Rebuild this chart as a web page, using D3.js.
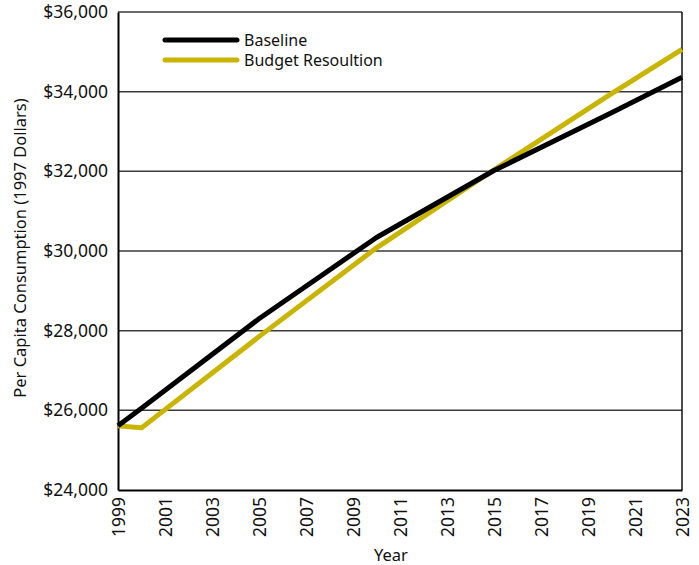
<!DOCTYPE html>
<html>
<head>
<meta charset="utf-8">
<script src="https://cdn.jsdelivr.net/npm/d3@7"></script>
<style>
  body { margin: 0; background: #fff; }
  svg text { font-family: "Noto Sans", "Open Sans", sans-serif; fill: #111; }
</style>
</head>
<body>
<svg id="chart" width="699" height="565"></svg>
<script>
var years = [1999, 2000, 2005, 2010, 2015, 2020, 2023];
var baseline = [25610, 26050, 28300, 30340, 32020, 33470, 34360];
var budget = [25610, 25560, 27850, 30080, 32040, 33950, 35060];
var yTicks = [24000, 26000, 28000, 30000, 32000, 34000, 36000];
var xTicks = [1999, 2001, 2003, 2005, 2007, 2009, 2011, 2013, 2015, 2017, 2019, 2021, 2023];
var seriesNames = ["Baseline", "Budget Resoultion"];

var colors = {
    "black": "#000000",
    "gold": "#c9b400"
};

var svg = d3.select("#chart");
var plotLeft = 118, plotRight = 682, plotTop = 12, plotBottom = 490;

var x = d3.scaleLinear().domain([1999, 2023]).range([plotLeft, plotRight]);
var y = d3.scaleLinear().domain([24000, 36000]).range([plotBottom, plotTop]);

// gridlines
svg.append("g")
    .selectAll("line")
    .data(yTicks.slice(1))
    .enter()
    .append("line")
    .attr("x1", plotLeft)
    .attr("x2", plotRight)
    .attr("y1", (d) => y(d))
    .attr("y2", (d) => y(d))
    .style("stroke", "#3a3a3a")
    .style("stroke-width", 1.5);

// right border
svg.append("line")
    .attr("x1", plotRight).attr("x2", plotRight)
    .attr("y1", plotTop).attr("y2", plotBottom)
    .style("stroke", "#111")
    .style("stroke-width", 1.5);

// y axis
var yAxis = svg.append("g")
    .attr("transform", "translate(" + plotLeft + ",0)")
    .call(d3.axisLeft(y).tickValues(yTicks).tickSize(0).tickPadding(10)
        .tickFormat((d) => "$" + d3.format(",")(d)));
yAxis.select(".domain").style("stroke", "#000").style("stroke-width", 2);
yAxis.selectAll("text")
    .attr("font-size", "17.5px")
    .attr("font-family", null);

// x axis
var xAxis = svg.append("g")
    .attr("transform", "translate(0," + plotBottom + ")")
    .call(d3.axisBottom(x).tickValues(xTicks).tickSize(0).tickFormat(d3.format("d")));
xAxis.select(".domain").style("stroke", "#000").style("stroke-width", 2);
xAxis.selectAll("text")
    .attr("font-size", "17.5px")
    .attr("font-family", null)
    .attr("transform", "rotate(-90)")
    .attr("text-anchor", "end")
    .attr("x", -7)
    .attr("y", 0)
    .attr("dy", "0.36em");

// axis titles
svg.append("text")
    .text("Year")
    .attr("x", 391)
    .attr("y", 561)
    .attr("text-anchor", "middle")
    .attr("font-size", "16.5px");
svg.append("text")
    .text("Per Capita Consumption (1997 Dollars)")
    .attr("transform", "translate(26," + ((plotTop + plotBottom) / 2 - 3) + ") rotate(-90)")
    .attr("text-anchor", "middle")
    .attr("font-size", "16.5px");

// lines
var series = [
    { "name": seriesNames[0], "values": baseline, "color": colors["black"] },
    { "name": seriesNames[1], "values": budget, "color": colors["gold"] }
];

var line = d3.line()
    .x((d, i) => x(years[i]))
    .y((d) => y(d));

svg.append("g")
    .selectAll("path")
    .data(series.slice().reverse())
    .enter()
    .append("path")
    .attr("d", (d) => line(d.values))
    .style("fill", "none")
    .style("stroke", (d) => d.color)
    .style("stroke-width", 5)
    .style("stroke-linejoin", "round");

// legend
var lg = svg.append("g")
    .selectAll("g")
    .data(series)
    .enter()
    .append("g")
    .attr("transform", (d, i) => "translate(165," + (40 + i * 20) + ")");
lg.append("line")
    .attr("x1", 0).attr("x2", 72)
    .style("stroke", (d) => d.color)
    .style("stroke-width", 5)
    .style("stroke-linecap", "round");
lg.append("text")
    .text((d) => d.name)
    .attr("x", 79)
    .attr("dy", "0.35em")
    .attr("font-size", "16px");
</script>
</body>
</html>
